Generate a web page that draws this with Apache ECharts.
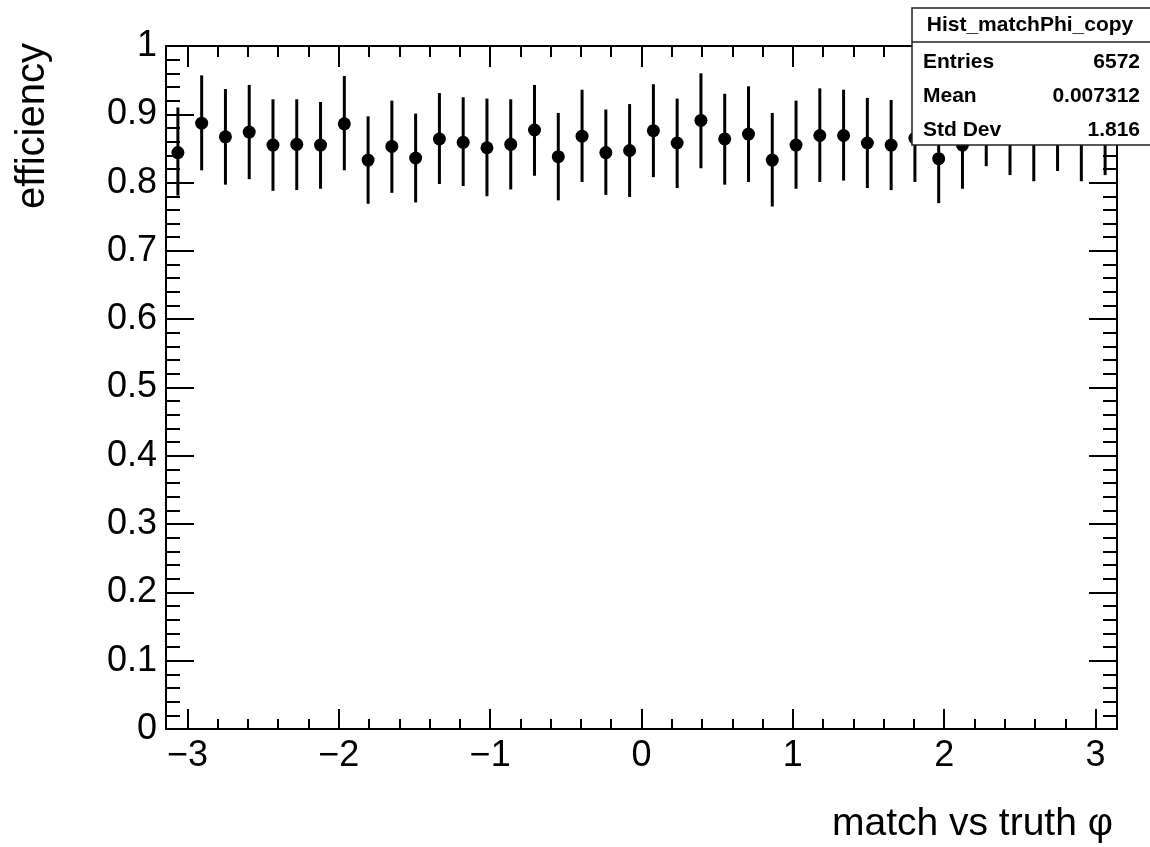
<!DOCTYPE html>
<html>
<head>
<meta charset="utf-8">
<script src="https://cdn.jsdelivr.net/npm/echarts@6/dist/echarts.min.js"></script>
<style>
  html, body { margin: 0; padding: 0; background: #ffffff; }
  #chart { width: 1150px; height: 847px; }
</style>
</head>
<body>
<div id="chart"></div>
<script>
// Histogram binning in phi
const N_BINS = 40;
const PHI_MIN = -Math.PI;
const PHI_MAX = Math.PI;

// Matching efficiency per phi bin, with lower / upper ends of the error bars
const efficiency = [
  0.844, 0.887, 0.867, 0.874, 0.855, 0.856, 0.855, 0.886, 0.833, 0.853,
  0.836, 0.864, 0.859, 0.851, 0.856, 0.877, 0.838, 0.868, 0.844, 0.847,
  0.876, 0.858, 0.891, 0.864, 0.871, 0.833, 0.855, 0.869, 0.869, 0.858,
  0.855, 0.865, 0.835, 0.855, 0.889, 0.876, 0.867, 0.882, 0.867, 0.876
];
const effLow = [
  0.781, 0.818, 0.797, 0.805, 0.788, 0.789, 0.791, 0.818, 0.769, 0.785,
  0.771, 0.798, 0.795, 0.780, 0.790, 0.810, 0.774, 0.801, 0.782, 0.779,
  0.808, 0.792, 0.821, 0.797, 0.801, 0.765, 0.791, 0.801, 0.803, 0.792,
  0.789, 0.801, 0.770, 0.791, 0.824, 0.811, 0.802, 0.817, 0.802, 0.811
];
const effHigh = [
  0.910, 0.957, 0.937, 0.943, 0.922, 0.922, 0.918, 0.956, 0.897, 0.920,
  0.901, 0.931, 0.925, 0.923, 0.922, 0.943, 0.902, 0.936, 0.907, 0.915,
  0.944, 0.923, 0.960, 0.930, 0.941, 0.902, 0.920, 0.938, 0.936, 0.924,
  0.921, 0.930, 0.900, 0.920, 0.954, 0.941, 0.932, 0.947, 0.932, 0.941
];

// Axis tick positions
const xMajorTicks = [-3, -2, -1, 0, 1, 2, 3];
const xMinorTicks = [
  -3.0, -2.8, -2.6, -2.4, -2.2, -2.0, -1.8, -1.6, -1.4, -1.2, -1.0,
  -0.8, -0.6, -0.4, -0.2, 0.0, 0.2, 0.4, 0.6, 0.8, 1.0,
  1.2, 1.4, 1.6, 1.8, 2.0, 2.2, 2.4, 2.6, 2.8, 3.0
];

// Statistics box contents
const statsTitle = 'Hist_matchPhi_copy';
const statsLabels = ['Entries', 'Mean', 'Std Dev'];
const statsValues = ['6572', '0.007312', '1.816'];

const xTitle = 'match vs truth \u03C6';
const yTitle = 'efficiency';

const FONT = '"Liberation Sans", Arial, Helvetica, sans-serif';
const binWidth = (PHI_MAX - PHI_MIN) / N_BINS;
const binCenters = efficiency.map((_, i) => PHI_MIN + (i + 0.5) * binWidth);

function fmtX(v) {
  const r = Math.round(v);
  return r < 0 ? '\u2212' + Math.abs(r) : String(r);
}
function fmtY(v) {
  const s = (Math.round(v * 10) / 10).toFixed(1);
  if (s === '0.0') return '0';
  if (s === '1.0') return '1';
  return s;
}

const axisLineStyle = { color: '#000', width: 2 };

function xAxisDef(position, ticks, len, withLabels) {
  return {
    type: 'value',
    position: position,
    min: PHI_MIN,
    max: PHI_MAX,
    axisLine: { show: true, onZero: false, lineStyle: axisLineStyle },
    axisTick: { show: true, inside: true, length: len, customValues: ticks, lineStyle: { color: '#000', width: 2 } },
    axisLabel: withLabels
      ? { show: true, customValues: xMajorTicks, margin: 9, fontSize: 36, color: '#000', fontFamily: FONT, formatter: fmtX }
      : { show: false },
    splitLine: { show: false }
  };
}

function yAxisDef(position, withLabels) {
  return {
    type: 'value',
    position: position,
    min: 0,
    max: 1,
    interval: 0.1,
    axisLine: { show: true, onZero: false, lineStyle: axisLineStyle },
    axisTick: { show: true, inside: true, length: 28, lineStyle: { color: '#000', width: 2 } },
    minorTick: { show: true, splitNumber: 5, length: 14, lineStyle: { color: '#000', width: 2 } },
    axisLabel: withLabels
      ? { show: true, margin: 9, fontSize: 36, color: '#000', fontFamily: FONT, formatter: fmtY }
      : { show: false },
    splitLine: { show: false },
    minorSplitLine: { show: false }
  };
}

// Statistics box, drawn above the data points
const STATS_Z = 100;
const statsGraphics = [
  { type: 'rect', z: STATS_Z, shape: { x: 912, y: 8, width: 260, height: 137 },
    style: { fill: '#fff', stroke: '#222', lineWidth: 1.5 } },
  { type: 'line', z: STATS_Z + 1, shape: { x1: 912, y1: 42, x2: 1150, y2: 42 },
    style: { stroke: '#222', lineWidth: 1.5 } },
  { type: 'text', z: STATS_Z + 1, x: 1030, y: 25,
    style: { text: statsTitle, font: 'bold 21px ' + FONT, align: 'center', verticalAlign: 'middle', fill: '#000' } }
];
statsLabels.forEach((lab, i) => {
  const y = 62 + i * 34;
  statsGraphics.push({ type: 'text', z: STATS_Z + 1, x: 923, y: y,
    style: { text: lab, font: 'bold 21px ' + FONT, align: 'left', verticalAlign: 'middle', fill: '#000' } });
  statsGraphics.push({ type: 'text', z: STATS_Z + 1, x: 1140, y: y,
    style: { text: statsValues[i], font: 'bold 21px ' + FONT, align: 'right', verticalAlign: 'middle', fill: '#000' } });
});

const chart = echarts.init(document.getElementById('chart'), null, { renderer: 'canvas' });
chart.setOption({
  animation: false,
  backgroundColor: '#fff',
  grid: { left: 166, right: 33, top: 46, bottom: 118, containLabel: false },
  xAxis: [
    xAxisDef('bottom', xMajorTicks, 20, true),
    xAxisDef('bottom', xMinorTicks, 10, false),
    xAxisDef('top', xMajorTicks, 21, false),
    xAxisDef('top', xMinorTicks, 11, false)
  ],
  yAxis: [
    yAxisDef('left', true),
    yAxisDef('right', false)
  ],
  series: [{
    type: 'custom',
    xAxisIndex: 0,
    yAxisIndex: 0,
    z: 2,
    data: efficiency.map((v, i) => [binCenters[i], v, effLow[i], effHigh[i]]),
    encode: { x: 0, y: [1, 2, 3] },
    renderItem: function (params, api) {
      const x = api.value(0);
      const c = api.coord([x, api.value(1)]);
      const lo = api.coord([x, api.value(2)]);
      const hi = api.coord([x, api.value(3)]);
      return {
        type: 'group',
        children: [
          { type: 'line', shape: { x1: lo[0], y1: lo[1], x2: hi[0], y2: hi[1] },
            style: { stroke: '#000', lineWidth: 3 } },
          { type: 'circle', shape: { cx: c[0], cy: c[1], r: 6.5 },
            style: { fill: '#000' } }
        ]
      };
    }
  }],
  graphic: {
    elements: statsGraphics.concat([
      { type: 'text', z: STATS_Z, x: 33, y: 43, rotation: Math.PI / 2,
        style: { text: yTitle, font: '40px ' + FONT, align: 'right', verticalAlign: 'middle', fill: '#000' } },
      { type: 'text', z: STATS_Z, x: 1113, y: 824,
        style: { text: xTitle, font: '39px ' + FONT, align: 'right', verticalAlign: 'middle', fill: '#000' } }
    ])
  }
});
</script>
</body>
</html>
